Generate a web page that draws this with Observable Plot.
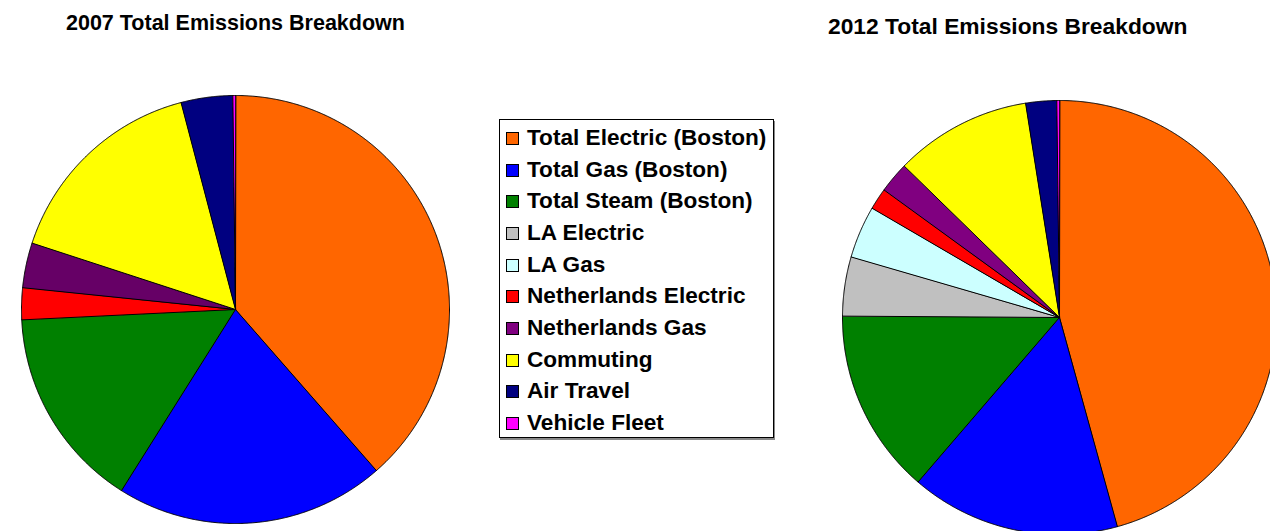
<!DOCTYPE html>
<html>
<head>
<meta charset="utf-8">
<script src="https://cdn.jsdelivr.net/npm/d3@7"></script>
<script src="https://cdn.jsdelivr.net/npm/@observablehq/plot@0.6"></script>
<style>
  html, body { margin: 0; padding: 0; background: #fff; overflow: hidden; }
  #root { position: relative; width: 1270px; height: 531px; overflow: hidden;
          font-family: "Liberation Sans", Arial, sans-serif; font-weight: bold; color: #000; }
  .title { position: absolute; white-space: nowrap; line-height: 1; }
  .pie { position: absolute; }
  #legend { position: absolute; left: 499px; top: 119px; width: 273px; height: 317px;
            border: 1px solid #000; box-shadow: 1px 2px 0 #888; background: #fff; }
  .item { position: absolute; left: 6px; white-space: nowrap; font-size: 22.6px; line-height: 1; }
  .sw { display: inline-block; width: 11px; height: 11px; border: 1px solid #000;
        margin-right: 8px; vertical-align: 0px; }
</style>
</head>
<body>
<div id="root"></div>
<script>
// ---- data ----
const categories = [
  "Total Electric (Boston)", "Total Gas (Boston)", "Total Steam (Boston)",
  "LA Electric", "LA Gas", "Netherlands Electric", "Netherlands Gas",
  "Commuting", "Air Travel", "Vehicle Fleet"
];
const colors = ["#FF6600", "#0000FF", "#008000", "#C0C0C0", "#CCFFFF",
                "#FF0000", "#800080", "#FFFF00", "#000080", "#FF00FF"];
const colors2007 = ["#FF6600", "#0000FF", "#008000", "#C0C0C0", "#CCFFFF",
                    "#FF0000", "#660066", "#FFFF00", "#000080", "#FF00FF"];
// percent shares
const values2007 = [38.6, 20.4, 15.3, 0, 0, 2.4, 3.4, 15.9, 3.9, 0.2];
const values2012 = [45.7, 15.6, 13.8, 4.4, 3.9, 1.6, 2.3, 10.2, 2.3, 0.2];
const titles = ["2007 Total Emissions Breakdown", "2012 Total Emissions Breakdown"];

const root = document.getElementById("root");

function slicePoints(values, cols) {
  const total = d3.sum(values);
  const pts = [];
  let a = 0;
  values.forEach((v, i) => {
    const a0 = a, a1 = a + (v / total) * 2 * Math.PI;
    a = a1;
    if (v <= 0) return;
    const key = categories[i];
    pts.push({key, color: cols[i], x: 0, y: 0});
    const n = Math.max(2, Math.ceil((a1 - a0) / (Math.PI / 720)));
    for (let k = 0; k <= n; k++) {
      const t = a0 + (a1 - a0) * k / n;
      pts.push({key, color: cols[i], x: Math.sin(t), y: Math.cos(t)});
    }
  });
  return pts;
}

function pie(values, cols, cx, cy, r) {
  const m = 2;
  const chart = Plot.plot({
    width: 2 * r + 2 * m,
    height: 2 * r + 2 * m,
    margin: m,
    x: {domain: [-1, 1], axis: null},
    y: {domain: [-1, 1], axis: null},
    color: {type: "identity"},
    marks: [
      Plot.line(slicePoints(values, cols), {
        x: "x", y: "y", z: "key", fill: "color",
        stroke: "black", strokeWidth: 1, curve: "linear-closed"
      })
    ]
  });
  chart.classList.add("pie");
  chart.style.left = (cx - r - m) + "px";
  chart.style.top = (cy - r - m) + "px";
  chart.style.background = "transparent";
  root.appendChild(chart);
}

pie(values2007, colors2007, 235, 309, 214);
pie(values2012, colors, 1059, 317, 217);

function title(text, left, top, size) {
  const d = document.createElement("div");
  d.className = "title";
  d.textContent = text;
  d.style.left = left + "px";
  d.style.top = top + "px";
  d.style.fontSize = size + "px";
  root.appendChild(d);
}
title(titles[0], 66, 13, 21.5);
title(titles[1], 828, 15, 22.8);

const legend = document.createElement("div");
legend.id = "legend";
categories.forEach((c, i) => {
  const it = document.createElement("div");
  it.className = "item";
  it.style.top = (7 + i * 31.67) + "px";
  const sw = document.createElement("span");
  sw.className = "sw";
  sw.style.background = colors[i];
  it.appendChild(sw);
  it.appendChild(document.createTextNode(c));
  legend.appendChild(it);
});
root.appendChild(legend);
</script>
</body>
</html>
